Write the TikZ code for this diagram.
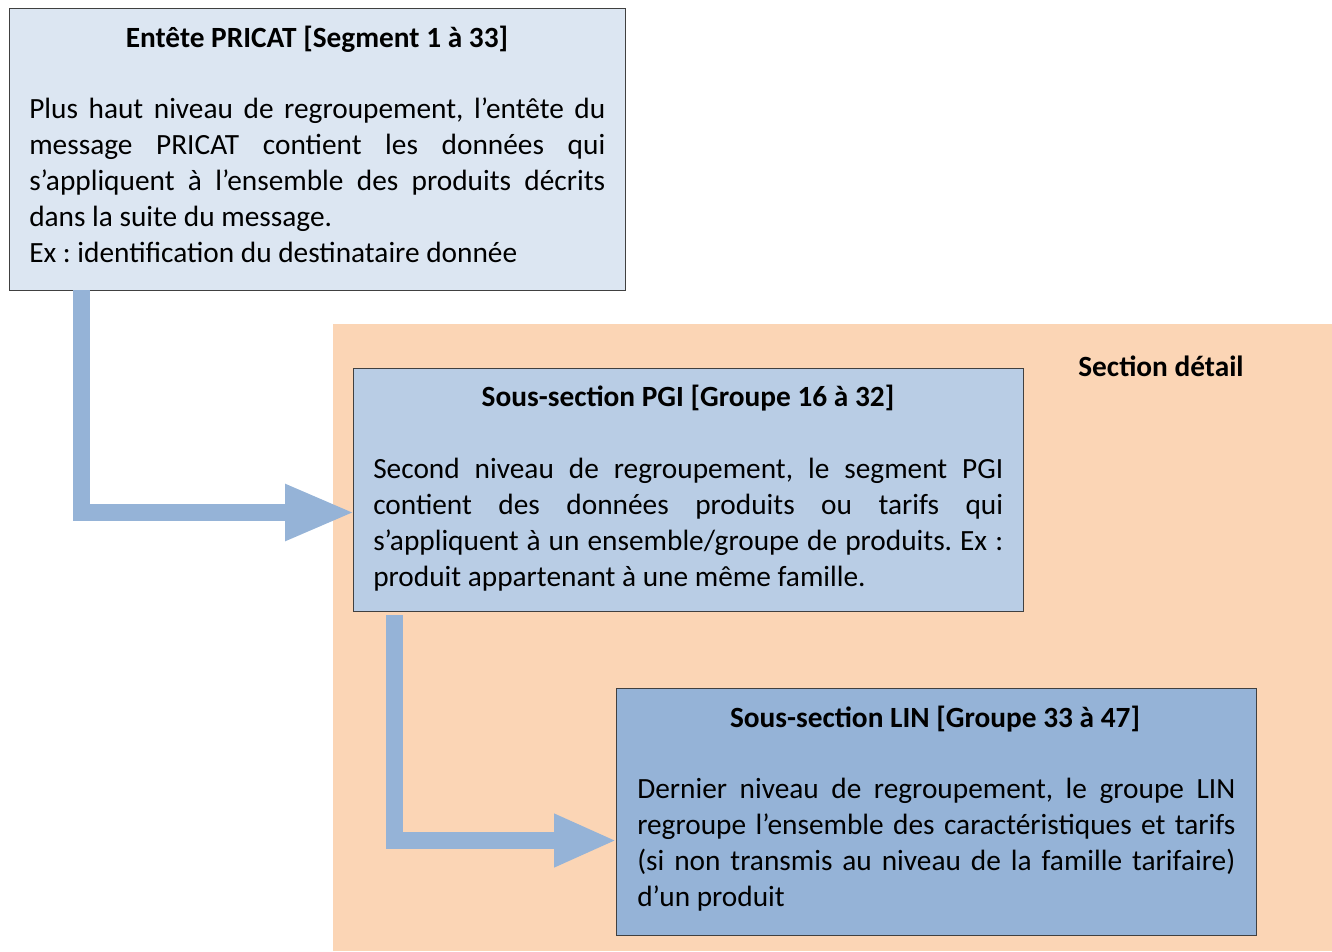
\documentclass[tikz,border=0pt]{standalone}
\usepackage{fontspec}
\setmainfont{Carlito}
\usetikzlibrary{arrows.meta}
\frenchspacing
\definecolor{topfill}{HTML}{DCE6F2}
\definecolor{pgifill}{HTML}{B9CDE5}
\definecolor{linfill}{HTML}{95B3D7}
\definecolor{secfill}{HTML}{FBD5B5}
\definecolor{edge}{HTML}{404040}
\tikzset{
  box/.style={draw=edge, line width=0.9pt, anchor=north west, inner sep=0pt, rectangle},
  title/.style={anchor=base, inner sep=0pt, font=\fontsize{22pt}{27pt}\selectfont\bfseries},
  body/.style={anchor=north west, inner sep=0pt, align=justify,
     font=\fontsize{22pt}{27pt}\selectfont},
  flow/.style={draw=linfill, line width=12.75pt, line join=miter},
  bighead/.style={-{Triangle[length=52.5pt, width=39pt]}},
  smallhead/.style={-{Triangle[length=47.25pt, width=36.75pt]}}
}
\begin{document}
\begin{tikzpicture}[x=0.75pt, y=-0.75pt]
\useasboundingbox (0,0) rectangle (1332,951);
% section background
\node[anchor=north west, inner sep=0pt, fill=secfill, minimum width=749.25pt, minimum height=470.25pt] (sec) at (333,324) {};
\node[title] (sectitle) at (1161,376) {Section détail};
% top box
\node[box, fill=topfill, minimum width=462pt, minimum height=211.5pt] (top) at (9,8) {};
\node[title] (toptitle) at (317,47) {Entête PRICAT [Segment 1 à 33]};
\node[body, text width=432pt] (topbody) at (29,98) {Plus haut niveau de regroupement, l’entête du\linebreak message PRICAT contient les données qui\linebreak s’appliquent à l’ensemble des produits décrits\linebreak dans la suite du message.\newline Ex : identification du destinataire donnée};
% PGI box
\node[box, fill=pgifill, minimum width=502.5pt, minimum height=182.25pt] (pgi) at (353,368) {};
\node[title] (pgititle) at (688,406) {Sous-section PGI [Groupe 16 à 32]};
\node[body, text width=472.5pt] (pgibody) at (373,458) {Second niveau de regroupement, le segment PGI\linebreak contient des données produits ou tarifs qui\linebreak s’appliquent à un ensemble/groupe de produits. Ex :\linebreak produit appartenant à une même famille.};
% LIN box
\node[box, fill=linfill, minimum width=480pt, minimum height=185.25pt] (lin) at (616,688) {};
\node[title] (lintitle) at (935,727) {Sous-section LIN [Groupe 33 à 47]};
\node[body, text width=448.5pt] (linbody) at (637,778) {Dernier niveau de regroupement, le groupe LIN\linebreak regroupe l’ensemble des caractéristiques et tarifs\linebreak (si non transmis au niveau de la famille tarifaire)\linebreak d’un produit};
% connectors
\coordinate (a1s) at (81.5,290);
\coordinate (a1e) at (355,512.5);
\coordinate (a2s) at (394.5,615);
\coordinate (a2e) at (617,840.5);
\draw[flow, bighead] (a1s) |- (a1e);
\draw[flow, smallhead] (a2s) |- (a2e);
\end{tikzpicture}
\end{document}
